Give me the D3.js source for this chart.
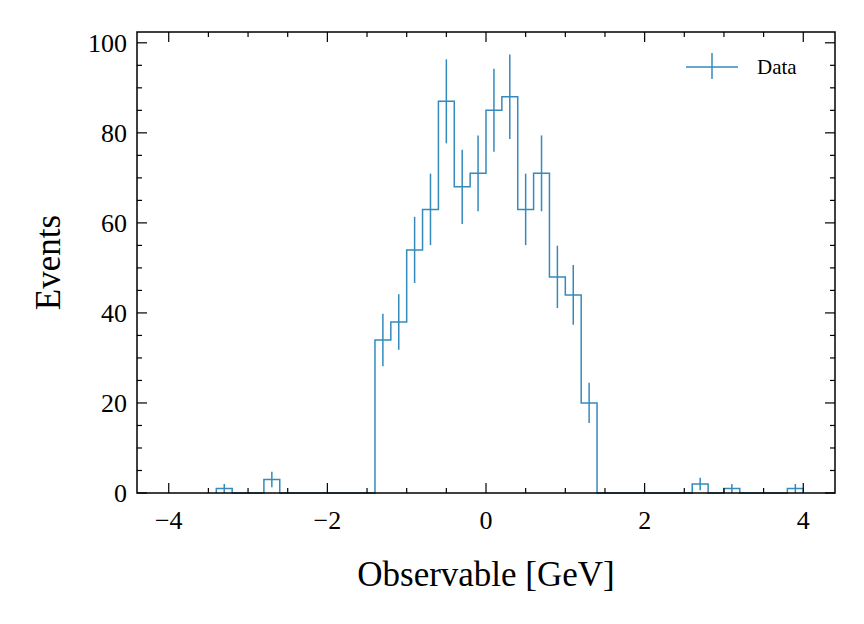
<!DOCTYPE html>
<html lang="en">
<head>
<meta charset="UTF-8">
<script src="https://d3js.org/d3.v7.min.js"></script>
<style>
  body { margin: 0; background: #fff; }
  text { font-family: "Liberation Serif", serif; fill: #000; }
</style>
</head>
<body>
<svg width="864" height="624"></svg>
<script>
// bin edges (width 0.2) and counts
var binLo = [-3.4, -3.2, -3.0, -2.8, -2.6, -2.4, -2.2, -2.0, -1.8, -1.6,
             -1.4, -1.2, -1.0, -0.8, -0.6, -0.4, -0.2, 0.0, 0.2, 0.4, 0.6, 0.8, 1.0, 1.2,
             1.4, 1.6, 1.8, 2.0, 2.2, 2.4, 2.6, 2.8, 3.0, 3.2, 3.4, 3.6, 3.8];
var counts = [1, 0, 0, 3, 0, 0, 0, 0, 0, 0,
              34, 38, 54, 63, 87, 68, 71, 85, 88, 63, 71, 48, 44, 20,
              0, 0, 0, 0, 0, 0, 2, 0, 1, 0, 0, 0, 1];
var binW = 0.2;
var xTicks = [-4, -2, 0, 2, 4];
var yTicks = [0, 20, 40, 60, 80, 100];

var svg = d3.select("svg");
var m = {l: 137, r: 835, t: 32, b: 493};
var color = "#348ABD";

var x = d3.scaleLinear().domain([-4.4, 4.4]).range([m.l, m.r]);
var y = d3.scaleLinear().domain([0, 102.4]).range([m.b, m.t]);

// step outline
var pts = [[binLo[0], 0]];
binLo.forEach(function(lo, i) {
    pts.push([lo, counts[i]]);
    pts.push([lo + binW, counts[i]]);
});
pts.push([binLo[binLo.length - 1] + binW, 0]);
svg.append("path")
    .attr("d", d3.line().x(function(d) { return x(d[0]); }).y(function(d) { return y(d[1]); })(pts))
    .attr("fill", "none").attr("stroke", color).attr("stroke-width", 1.5);

// error bars
binLo.forEach(function(lo, i) {
    var n = counts[i];
    if (n <= 0) return;
    var c = lo + binW / 2, e = Math.sqrt(n);
    svg.append("line")
        .attr("x1", x(c)).attr("x2", x(c))
        .attr("y1", y(n - e)).attr("y2", y(n + e))
        .attr("stroke", color).attr("stroke-width", 1.5);
});

// frame
svg.append("rect").attr("x", m.l).attr("y", m.t)
    .attr("width", m.r - m.l).attr("height", m.b - m.t)
    .attr("fill", "none").attr("stroke", "#000").attr("stroke-width", 1.5);

// x ticks
var minX = d3.range(-4, 4.01, 0.5);
minX.forEach(function(v) {
    var major = xTicks.indexOf(v) >= 0, L = major ? 10 : 5;
    [[m.b, -1], [m.t, 1]].forEach(function(s) {
        svg.append("line").attr("x1", x(v)).attr("x2", x(v))
            .attr("y1", s[0]).attr("y2", s[0] + s[1] * L)
            .attr("stroke", "#000").attr("stroke-width", 1.2);
    });
});
xTicks.forEach(function(v) {
    svg.append("text").attr("x", x(v)).attr("y", m.b + 36)
        .attr("text-anchor", "middle").attr("font-size", 26)
        .text(v < 0 ? "\u2212" + (-v) : v);
});

// y ticks
d3.range(0, 101, 5).forEach(function(v) {
    var major = yTicks.indexOf(v) >= 0, L = major ? 10 : 5;
    [[m.l, 1], [m.r, -1]].forEach(function(s) {
        svg.append("line").attr("x1", s[0]).attr("x2", s[0] + s[1] * L)
            .attr("y1", y(v)).attr("y2", y(v))
            .attr("stroke", "#000").attr("stroke-width", 1.2);
    });
});
yTicks.forEach(function(v) {
    svg.append("text").attr("x", m.l - 10).attr("y", y(v) + 9)
        .attr("text-anchor", "end").attr("font-size", 26).text(v);
});

// axis labels
svg.append("text").attr("x", (m.l + m.r) / 2).attr("y", 586)
    .attr("text-anchor", "middle").attr("font-size", 35).text("Observable [GeV]");
svg.append("text").attr("transform", "translate(60," + ((m.t + m.b) / 2) + ") rotate(-90)")
    .attr("text-anchor", "middle").attr("font-size", 35).text("Events");

// legend
svg.append("line").attr("x1", 686).attr("x2", 738).attr("y1", 67).attr("y2", 67)
    .attr("stroke", color).attr("stroke-width", 1.5);
svg.append("line").attr("x1", 712).attr("x2", 712).attr("y1", 53).attr("y2", 79)
    .attr("stroke", color).attr("stroke-width", 1.5);
svg.append("text").attr("x", 757).attr("y", 74).attr("font-size", 21).text("Data");
</script>
</body>
</html>
